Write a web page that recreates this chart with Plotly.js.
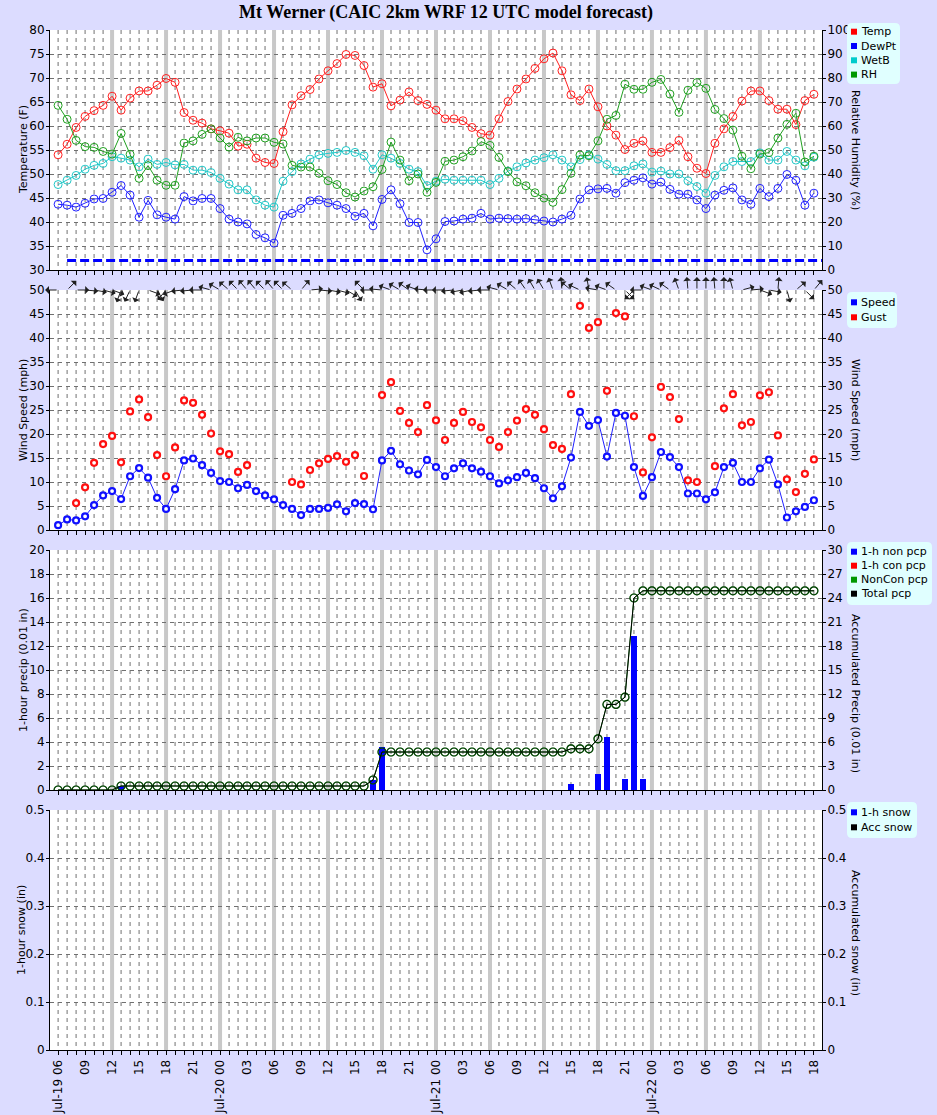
<!DOCTYPE html>
<html><head><meta charset="utf-8">
<script src="https://cdn.plot.ly/plotly-3.0.1.min.js"></script>
<style>html,body{margin:0;padding:0;background:rgb(220,220,255);} #chart{width:937px;height:1115px;}</style>
</head><body><div id="chart"></div>
<script>
// ---------------- DATA ----------------
const tickLabels = ["Jul-19 06","09","12","15","18","21","Jul-20 00","03","06","09","12","15","18","21",
  "Jul-21 00","03","06","09","12","15","18","21","Jul-22 00","03","06","09","12","15","18"];

const seriesNames = {temp:"Temp", dewpt:"DewPt", wetb:"WetB", rh:"RH", speed:"Speed", gust:"Gust",
  nonPcp:"1-h non pcp", conPcp:"1-h con pcp", nonConAcc:"NonCon pcp", totalAcc:"Total pcp",
  snow1h:"1-h snow", snowAcc:"Acc snow"};

const temp = [54.0,56.2,59.7,62.0,63.2,64.3,66.2,63.3,65.8,67.3, 67.3,68.5,69.9,69.1,62.8,61.2,60.6,59.4,59.0,58.5,
  55.8,56.2,53.3,52.4,52.2,58.8,64.4,66.3,67.6,69.8, 71.5,73.0,74.9,74.7,72.6,68.1,68.8,64.2,65.4,67.1,
  65.3,64.5,63.3,61.5,61.5,61.1,59.7,58.4,58.1,61.5, 65.1,67.7,69.8,72.0,74.0,75.2,71.5,66.5,65.3,67.7,
  64.0,60.0,58.1,55.1,56.4,56.9,54.5,54.5,55.5,57.0, 53.6,51.2,50.1,56.4,59.4,62.0,65.2,67.3,67.3,65.3,
  63.5,63.5,60.3,65.3,66.6];
const dewpt = [43.7,43.5,43.1,43.9,44.8,44.9,46.2,47.6,45.6,41.0, 44.5,41.5,41.0,40.6,45.3,44.4,44.9,44.9,42.8,40.6,
  40.0,39.6,37.4,36.7,35.6,41.4,41.8,42.8,44.4,44.6, 44.0,43.5,42.8,41.2,41.8,39.2,44.7,46.7,43.8,39.9,
  39.9,34.2,36.5,40.1,40.2,40.6,40.8,41.8,40.6,40.8, 40.7,40.6,40.7,40.5,40.2,40.0,40.6,41.4,44.8,46.7,
  46.9,47.0,46.0,48.2,48.7,49.2,47.9,48.3,46.8,45.8, 45.8,44.6,42.8,45.6,46.6,47.1,44.6,43.7,47.0,45.3,
  47.0,49.9,48.7,43.5,46.0];
const wetb = [47.8,48.7,49.7,51.0,51.8,52.2,53.6,53.3,52.9,51.5, 53.1,52.0,52.4,51.9,52.0,50.8,50.8,50.3,49.1,47.9,
  46.7,46.7,44.6,43.5,43.1,48.5,50.5,52.1,53.1,54.0, 54.3,54.5,54.9,54.5,53.8,51.0,54.0,53.3,52.2,51.0,
  50.5,47.6,48.5,48.9,48.7,48.7,48.7,48.7,47.8,49.1, 50.6,51.5,52.3,52.9,53.4,54.0,52.9,51.5,53.0,54.0,
  53.1,52.0,50.7,50.7,51.7,52.1,50.4,50.6,50.0,50.0, 48.6,47.4,46.0,49.7,51.5,52.6,52.6,52.6,54.4,52.9,
  52.9,54.7,52.9,51.7,53.5];
const rh = [68.6,62.8,54.0,51.4,51.1,49.4,48.3,56.9,48.2,38.2, 43.5,37.4,35.3,35.3,52.9,53.8,56.5,58.8,55.0,51.2,
  55.3,53.8,55.0,55.0,53.2,52.5,43.6,42.9,42.9,40.3, 37.2,35.6,32.2,30.4,32.9,34.7,41.9,53.3,45.8,37.2,
  40.0,32.4,36.5,45.3,45.8,47.2,49.6,53.5,51.9,46.9, 41.0,36.7,35.1,32.2,30.0,28.2,33.5,40.3,47.9,47.6,
  53.8,62.8,64.4,77.4,75.3,75.3,78.2,79.4,73.3,65.7, 74.9,78.1,75.7,66.9,63.1,58.3,47.4,42.2,48.3,48.9,
  55.0,60.7,65.3,45.0,47.4];
const freezeF = 32;

const speed = [1.0,2.2,2.0,2.85,5.2,7.2,8.1,6.45,11.2,12.9, 10.9,6.7,4.4,8.5,14.5,14.9,13.5,11.9,10.2,10.0,
  8.7,9.4,8.1,7.2,6.4,5.2,4.4,3.1,4.4,4.4, 4.6,5.35,3.9,5.6,5.4,4.3,14.5,16.5,13.7,12.4,
  11.6,14.6,13.1,11.2,12.85,13.9,12.85,12.15,11.2,9.7, 10.35,11.0,11.9,10.8,8.7,6.6,9.1,15.1,24.6,21.7,
  22.9,15.3,24.4,23.8,13.1,7.1,11.0,16.25,15.2,13.1, 7.6,7.6,6.4,7.85,13.1,14.0,10.0,10.0,12.85,14.65,
  9.5,2.6,3.9,4.8,6.2];
const gust = [null,null,5.6,8.9,14.0,17.9,19.6,14.1,24.7,27.2, 23.5,15.6,11.2,17.2,27.0,26.5,24.0,20.1,16.4,15.8,
  12.1,13.5,null,null,null,null,10.0,9.5,12.5,13.9, 14.8,15.4,14.2,15.6,11.25,null,28.1,30.8,24.8,22.3,
  20.4,26.0,22.85,18.75,22.3,24.6,22.5,21.4,18.75,17.3, 20.4,22.8,25.2,24.0,21.0,17.7,16.9,28.3,46.7,42.1,
  43.3,29.0,45.2,44.5,23.7,12.0,19.3,29.8,27.7,23.1, 10.35,10.0,null,13.3,25.35,28.3,21.8,22.5,28.05,28.7,
  19.7,10.55,7.9,11.7,14.7];
// wind direction (degrees, direction the wind blows FROM)
const windDir = [90,225,270,275,280,285,290,20,25,20, 290,330,40,70,85,85,90,105,120,130,
  135,140,140,135,140,135,130,220,265,275, 280,285,300,330,135,90,95,110,120,125,
  110,95,90,90,85,80,78,85,90,105, 120,130,145,150,150,160,175,130,115,170,
  100,110,125,315,45,90,110,115,125,160, 175,180,180,175,180,165,255,265,290,280,
  185,345,230,315,220];

const nonPcp = [0,0,0,0,0,0,0,0.35,0,0, 0,0,0,0,0,0,0,0,0,0, 0,0,0,0,0,0,0,0,0,0,
  0,0,0,0,0,0.85,3.6,0,0,0, 0,0,0,0,0,0,0,0,0,0, 0,0,0,0,0,0,0,0.5,0,0,
  1.34,4.43,0,0.92,12.8,0.92,0,0,0,0, 0,0,0,0,0,0,0,0,0,0, 0,0,0,0,0];
const conPcp = [0,0,0,0,0,0,0,0,0,0, 0,0,0,0,0,0,0,0,0,0, 0,0,0,0,0,0,0,0,0,0,
  0,0,0,0,0,0,0,0,0,0, 0,0,0,0,0,0,0,0,0,0, 0,0,0,0,0,0,0,0,0,0,
  0,0,0,0,0,0,0,0,0,0, 0,0,0,0,0,0,0,0,0,0, 0,0,0,0,0];
const totalAcc = [0,0,0,0,0,0,0,0.5,0.5,0.5, 0.5,0.5,0.5,0.5,0.5,0.5,0.5,0.5,0.5,0.5,
  0.5,0.5,0.5,0.5,0.5,0.5,0.5,0.5,0.5,0.5, 0.5,0.5,0.5,0.5,0.5,1.25,4.75,4.75,4.75,4.75,
  4.75,4.75,4.75,4.75,4.75,4.75,4.75,4.75,4.75,4.75, 4.75,4.75,4.75,4.75,4.75,4.75,4.75,5.15,5.15,5.15,
  6.4,10.7,10.7,11.6,24.0,24.9,24.9,24.9,24.9,24.9, 24.9,24.9,24.9,24.9,24.9,24.9,24.9,24.9,24.9,24.9,
  24.9,24.9,24.9,24.9,24.9];
const nonConAcc = totalAcc;
const snow1h = [];
const snowAcc = [];

// ---------------- GEOMETRY ----------------
const W = 937, H = 1115, ML = 50, MR = 115, MT = 30, MB = 65;
const PW = W - ML - MR, PH = H - MT - MB;
const fx = px => (px - ML) / PW;
const fy = py => (H - MB - py) / PH;
const FONT = 'DejaVu Sans';
const GRID = '#707070';

const hours = temp.map((_, i) => i);
const ticktext = hours.map(h => (h % 3 === 0 ? tickLabels[h / 3] : ''));
const barHours = hours.filter(h => h > 0 && h < 84 && h % 6 === 0);

const C = {red:'#ff2020', blue:'#2020ff', cyan:'#20c8c8', green:'#20a020', black:'#000000'};

const xBase = (anchor, labels) => ({
  anchor: anchor, range: [-0.9, 84.9],
  tickmode: 'array', tickvals: hours, ticktext: ticktext, showticklabels: labels, tickangle: -90,
  ticks: 'outside', ticklen: 4, tickcolor: '#000', showline: true, linecolor: '#000', linewidth: 1,
  showgrid: false, zeroline: false, automargin: false, tickfont: {family: FONT, size: 12, color: '#000'}
});
const yLeft = (dom, rng, dt, anchor) => ({
  domain: dom, range: rng, dtick: dt, tick0: rng[0], anchor: anchor, ticks: 'outside', ticklen: 3,
  ticklabelstandoff: -1,
  tickcolor: '#000', showline: true, linecolor: '#000', linewidth: 1, showgrid: true,
  gridcolor: GRID, griddash: '4px,4px', gridwidth: 1, zeroline: false, automargin: false,
  tickfont: {family: FONT, size: 12, color: '#000'}
});
const yRight = (over, rng, dt, anchor) => ({
  overlaying: over, side: 'right', anchor: anchor, range: rng, dtick: dt, tick0: rng[0],
  ticks: 'outside', ticklen: 3, ticklabelstandoff: -1, tickcolor: '#000', showline: true, linecolor: '#000', linewidth: 1,
  showgrid: false, zeroline: false, automargin: false, tickfont: {family: FONT, size: 12, color: '#000'}
});

const d1 = [fy(270), fy(30)], d2 = [fy(530), fy(290)], d3 = [fy(790), fy(550)], d4 = [fy(1050), fy(810)];

// ---------------- TRACES ----------------
const lineTrace = (y, color, xa, ya, name) => ({
  type: 'scatter', mode: 'lines+markers', x: hours, y: y, xaxis: xa, yaxis: ya, name: name,
  line: {color: color, width: 1}, marker: {symbol: 'circle-open', size: 8, color: color, line: {width: 1}},
  showlegend: false, hoverinfo: 'skip'
});
const traces = [
  lineTrace(rh, C.green, 'x', 'y2', seriesNames.rh),
  lineTrace(wetb, C.cyan, 'x', 'y', seriesNames.wetb),
  lineTrace(dewpt, C.blue, 'x', 'y', seriesNames.dewpt),
  lineTrace(temp, C.red, 'x', 'y', seriesNames.temp),
  {type:'scatter', mode:'lines+markers', x:hours, y:speed, xaxis:'x2', yaxis:'y3', name:seriesNames.speed,
   line:{color:C.blue, width:1}, marker:{symbol:'circle', size:6, color:'#ffffff', line:{color:'#1010ff', width:2.2}},
   showlegend:false, hoverinfo:'skip'},
  {type:'scatter', mode:'markers', x:hours, y:gust, xaxis:'x2', yaxis:'y3', name:seriesNames.gust,
   marker:{symbol:'circle', size:6, color:'#ffffff', line:{color:'#ff1010', width:2.2}},
   showlegend:false, hoverinfo:'skip'},
  {type:'scatter', mode:'markers', x:[null], y:[null], xaxis:'x2', yaxis:'y4', showlegend:false, hoverinfo:'skip'},
  {type:'bar', x:hours, y:nonPcp, xaxis:'x3', yaxis:'y5', name:seriesNames.nonPcp, width:0.7,
   marker:{color:'#0000ff', line:{width:0}}, showlegend:false, hoverinfo:'skip'},
  {type:'bar', x:hours, y:conPcp, xaxis:'x3', yaxis:'y5', name:seriesNames.conPcp, width:0.7,
   marker:{color:'#ff0000', line:{width:0}}, showlegend:false, hoverinfo:'skip'},
  {type:'scatter', mode:'lines+markers', x:hours, y:nonConAcc, xaxis:'x3', yaxis:'y6', name:seriesNames.nonConAcc,
   line:{color:'#008000', width:1}, marker:{symbol:'circle-open', size:8, color:'#008000', line:{width:1.2}},
   showlegend:false, hoverinfo:'skip'},
  {type:'scatter', mode:'lines+markers', x:hours, y:totalAcc, xaxis:'x3', yaxis:'y6', name:seriesNames.totalAcc,
   line:{color:'#000000', width:1}, marker:{symbol:'circle-open', size:8, color:'rgba(0,0,0,0.55)', line:{width:1.2}},
   showlegend:false, hoverinfo:'skip'},
  {type:'bar', x:snow1h.map((_, i) => i), y:snow1h, xaxis:'x4', yaxis:'y7', name:seriesNames.snow1h,
   marker:{color:'#0000ff'}, showlegend:false, hoverinfo:'skip'},
  {type:'scatter', mode:'lines+markers', x:snowAcc.map((_, i) => i), y:snowAcc, xaxis:'x4', yaxis:'y8', name:seriesNames.snowAcc,
   line:{color:'#000'}, showlegend:false, hoverinfo:'skip'}
];

// ---------------- SHAPES ----------------
const shapes = [];
const panelAxes = [['x', d1], ['x2', d2], ['x3', d3], ['x4', d4]];
panelAxes.forEach(([xr, dom]) => {
  hours.forEach(h => {
    if (barHours.includes(h)) {
      shapes.push({type:'line', xref:xr, yref:'paper', x0:h, x1:h, y0:dom[0], y1:dom[1], layer:'below',
        line:{color:'#c8c8c8', width:4}});
    } else {
      shapes.push({type:'line', xref:xr, yref:'paper', x0:h, x1:h, y0:dom[1], y1:dom[0], layer:'below',
        line:{color:GRID, width:1, dash:'4px,4px'}});
    }
  });
});
shapes.push({type:'line', xref:'x', yref:'y', x0:1, x1:84.9, y0:freezeF, y1:freezeF, layer:'above',
  line:{color:'#0000ff', width:3, dash:'9px,4px'}});

const annotations = [];
// legends (drawn boxes)
const legends = [
  {top:23, bottom:84, right:900, y0:31.7, step:14.3,
   items:[[seriesNames.temp,'#ff0000'],[seriesNames.dewpt,'#0000ff'],[seriesNames.wetb,'#00cccc'],[seriesNames.rh,'#009900']]},
  {top:292, bottom:328, right:897, y0:302.3, step:15,
   items:[[seriesNames.speed,'#0000ff'],[seriesNames.gust,'#ff0000']]},
  {top:542, bottom:605, right:932, y0:551.7, step:14,
   items:[[seriesNames.nonPcp,'#0000ff'],[seriesNames.conPcp,'#ff0000'],[seriesNames.nonConAcc,'#009900'],[seriesNames.totalAcc,'#000000']]},
  {top:802, bottom:838, right:917, y0:812.3, step:15,
   items:[[seriesNames.snow1h,'#0000ff'],[seriesNames.snowAcc,'#000000']]}
];
legends.forEach(lg => {
  const x0 = fx(847), x1 = fx(lg.right), yT = fy(lg.top), yB = fy(lg.bottom);
  const rx = 5 / PW, ry = 5 / PH;
  const path = `M ${x0+rx} ${yT} L ${x1-rx} ${yT} Q ${x1} ${yT} ${x1} ${yT-ry} L ${x1} ${yB+ry} Q ${x1} ${yB} ${x1-rx} ${yB} ` +
    `L ${x0+rx} ${yB} Q ${x0} ${yB} ${x0} ${yB+ry} L ${x0} ${yT-ry} Q ${x0} ${yT} ${x0+rx} ${yT} Z`;
  shapes.push({type:'path', xref:'paper', yref:'paper', path:path, fillcolor:'#e0ffff', line:{width:0}, layer:'above'});
  lg.items.forEach(([name, col], k) => {
    const yc = lg.y0 + k * lg.step;
    shapes.push({type:'rect', xref:'paper', yref:'paper', x0:fx(851), x1:fx(857), y0:fy(yc+3), y1:fy(yc-3),
      fillcolor:col, line:{width:0}, layer:'above'});
    annotations.push({xref:'paper', yref:'paper', x:fx(858.5), y:fy(yc), xanchor:'left', yanchor:'middle',
      text:name, showarrow:false, font:{family:FONT, size:11, color:'#000'}});
  });
});

// axis titles
const axisTitles = [
  ['Temperature (F)', 23, 150, -90], ['Relative Humidity (%)', 856, 150, 90],
  ['Wind Speed (mph)', 23, 410, -90], ['Wind Speed (mph)', 856, 410, 90],
  ['1-hour precip (0.01 in)', 23, 670, -90], ['Accumulated Precip (0.01 in)', 856, 693, 90],
  ['1-hour snow (in)', 21, 930, -90], ['Accumulated snow (in)', 856, 933, 90]
];
axisTitles.forEach(([t, px, py, ang]) => {
  annotations.push({xref:'paper', yref:'paper', x:fx(px), y:fy(py), xanchor:'center', yanchor:'middle',
    text:t, textangle:ang, showarrow:false, font:{family:FONT, size:11, color:'#000'}});
});

// wind arrows along the top of the wind panel
windDir.forEach((d, i) => {
  const th = (d + 180) * Math.PI / 180, L = 13;
  const dx = L * Math.sin(th), dy = -L * Math.cos(th);
  annotations.push({xref:'x2', yref:'y3', x:hours[i], y:50, text:'', showarrow:true,
    arrowhead:1, arrowsize:1.3, arrowwidth:1, arrowcolor:'#202020', ax:-dx, ay:-dy, axref:'pixel', ayref:'pixel',
    xshift:dx, yshift:-dy, standoff:0, startstandoff:0});
});

const layout = {
  width: W, height: H, margin: {l: ML, r: MR, t: MT, b: MB, pad: 0},
  paper_bgcolor: 'rgb(220,220,255)', plot_bgcolor: '#ffffff',
  font: {family: FONT, size: 12, color: '#000'},
  title: {text: 'Mt Werner (CAIC 2km WRF 12 UTC model forecast)', x: fx(446), xref: 'paper', xanchor: 'center',
    y: 1 - 12 / H, yref: 'container', yanchor: 'middle',
    font: {family: 'Liberation Serif', size: 18, weight: 'bold', color: '#000'}},
  showlegend: false, barmode: 'overlay', bargap: 0, hovermode: false,
  xaxis: xBase('y', false), xaxis2: xBase('y3', false), xaxis3: xBase('y5', false), xaxis4: xBase('y7', true),
  yaxis: yLeft(d1, [30, 80], 5, 'x'), yaxis2: yRight('y', [0, 100], 10, 'x'),
  yaxis3: yLeft(d2, [0, 50], 5, 'x2'), yaxis4: yRight('y3', [0, 50], 5, 'x2'),
  yaxis5: yLeft(d3, [0, 20], 2, 'x3'), yaxis6: yRight('y5', [0, 30], 3, 'x3'),
  yaxis7: yLeft(d4, [0, 0.5], 0.1, 'x4'), yaxis8: yRight('y7', [0, 0.5], 0.1, 'x4'),
  shapes: shapes, annotations: annotations
};
Plotly.newPlot('chart', traces, layout, {staticPlot: true, displayModeBar: false});
</script></body></html>
